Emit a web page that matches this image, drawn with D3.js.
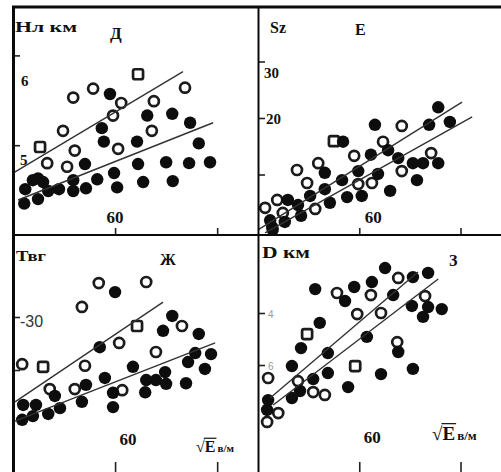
<!DOCTYPE html>
<html>
<head>
<meta charset="utf-8">
<script src="https://cdn.jsdelivr.net/npm/d3@7"></script>
<style>
  html, body { margin: 0; padding: 0; background: #fff; }
  svg { display: block; }
</style>
</head>
<body>
<script>
// Shared horizontal variable: sqrt(E), В/м
const xTicks = [60, 80];
const xTickLabels = ["60", ""];

// Д — Нл, км
const dYTicks = [6, 5];
const dYLabels = ["6", "5"];
const dOpen = [[55.7,5.63],[51.8,5.53],[73.7,5.64],[61.2,5.47],[67.6,5.49],[59.6,5.33],[49.8,5.16],[67.2,5.16],[52.1,4.94],[60.6,4.96],[46.7,4.80],[50.6,4.76]];
const dSquare = [[64.5,5.79],[45.3,4.98]];
const dFilled = [[59.0,5.57],[57.4,5.19],[57.8,5.04],[66.3,5.33],[71.2,5.35],[74.7,5.25],[64.3,5.04],[76.4,5.02],[54.1,4.79],[64.5,4.79],[70.0,4.81],[74.5,4.80],[78.6,4.81],[59.8,4.69],[51.8,4.61],[56.5,4.62],[65.5,4.59],[71.3,4.60],[43.9,4.61],[45.9,4.59],[44.9,4.63],[42.4,4.51],[46.9,4.49],[49.0,4.51],[51.8,4.49],[54.3,4.52],[60.4,4.53],[44.9,4.40],[42.2,4.35]];
const dLines = [[[40,4.69],[73.3,5.82]], [[41.0,4.39],[79.2,5.25]]];

// Е — Sz
const eYTicks = [30, 20, 10];
const eYLabels = ["30", "20", ""];
const eOpen = [[68.4,18.6],[64.7,15.8],[59.0,13.3],[51.9,12.0],[47.7,10.8],[68.4,10.6],[74.2,13.8],[49.7,8.5],[59.8,8.3],[62.5,8.5],[43.8,5.5],[51.3,3.9],[41.4,4.1],[44.9,3.2]];
const eSquare = [[55.0,15.9]];
const eFilled = [[75.6,21.9],[77.9,19.3],[73.8,18.8],[63.1,18.8],[56.8,15.8],[65.7,14.3],[62.3,13.5],[67.7,12.9],[70.6,12.0],[72.6,12.0],[75.6,12.0],[53.2,10.3],[59.8,10.6],[63.7,10.1],[71.4,9.0],[56.6,9.0],[53.2,7.4],[50.3,6.2],[57.6,6.0],[60.5,6.2],[66.1,7.1],[54.2,5.0],[45.9,5.5],[47.9,4.6],[48.5,2.7],[45.3,1.6],[42.8,0.7],[42.4,1.9],[42.9,0.2]];
const eLines = [[[40,0.2],[80.3,22.8]], [[41.4,-0.35],[82.3,20.2]]];

// Ж — Твг
const zhYTicks = [-30, -40];
const zhYLabels = ["-30", ""];
const zhOpen = [[56.8,-23.6],[66.1,-23.4],[53.5,-28.1],[73.1,-31.7],[60.8,-34.9],[68.0,-36.6],[41.8,-38.9],[54.1,-39.2],[47.2,-43.6],[52.1,-43.6],[61.4,-43.8]];
const zhSquare = [[64.3,-31.7],[45.9,-39.4]];
const zhFilled = [[60.0,-25.3],[71.2,-29.8],[69.4,-32.6],[76.4,-33.2],[57.0,-35.7],[75.7,-36.8],[78.8,-37.0],[74.3,-38.5],[63.5,-39.4],[77.6,-39.8],[69.8,-40.4],[58.0,-41.5],[66.1,-41.9],[68.0,-41.9],[54.3,-42.8],[70.0,-42.6],[73.9,-42.5],[48.2,-44.9],[59.6,-44.3],[65.9,-44.2],[53.5,-46.0],[49.2,-47.2],[59.6,-47.0],[42.0,-46.6],[44.5,-46.6],[46.9,-48.3],[43.9,-48.7],[41.8,-49.4]];
const zhLines = [[[40.4,-46.0],[69.4,-27.2]], [[40,-49.8],[79.6,-34.9]]];

// З — D, км
const zYTicks = [4, 6];
const zYLabels = ["4", "6"];
const zOpen = [[67.7,2.65],[62.3,3.31],[55.6,3.23],[73.0,3.35],[59.6,4.04],[64.3,4.00],[67.5,5.12],[42.0,6.50],[47.9,6.62],[50.9,7.04],[53.2,7.15],[44.0,7.85],[41.8,8.19]];
const zSquare = [[49.7,4.81],[59.2,6.04]];
const zFilled = [[65.1,2.27],[70.6,2.62],[73.6,2.46],[62.5,2.81],[59.0,3.0],[51.3,3.08],[57.2,3.54],[66.7,3.31],[70.4,3.73],[73.6,3.77],[76.3,3.85],[72.6,4.15],[52.2,4.38],[61.5,4.92],[48.5,5.35],[67.7,5.50],[53.8,5.54],[46.7,6.04],[53.8,6.31],[70.6,6.15],[64.3,6.35],[50.9,6.54],[57.8,6.85],[48.3,7.0],[46.7,7.27],[42.0,7.35],[41.8,7.73]];
const zLines = [[[42.4,7.27],[71.6,2.42]], [[43.0,7.54],[75.6,2.69]]];

const W = 501, H = 472;
const serif = "'Liberation Serif','DejaVu Serif',serif";
const sans = "'Liberation Sans','DejaVu Sans',sans-serif";

const svg = d3.select("body").append("svg")
  .attr("width", W).attr("height", H)
  .attr("viewBox", `0 0 ${W} ${H}`);

svg.append("defs").append("filter").attr("id", "soft")
  .append("feGaussianBlur").attr("stdDeviation", 0.35);

const panels = [
  { x0: 13, x1: 258, axisY: 235, tick: 7,
    yDomain: [4, 6.55], yRange: [235, 6],
    yTicks: dYTicks, yLabels: dYLabels, labelPos: [[21, 31], [20, 20]], labelFont: serif, labelSize: 15, labelColor: "#111", labelWeight: 700,
    open: dOpen, square: dSquare, filled: dFilled, lines: dLines,
    xLabelY: 223, xLabelX: 0 },
  { x0: 258, x1: 501, axisY: 235, tick: 7,
    yDomain: [0, 40], yRange: [231, 5],
    yTicks: eYTicks, yLabels: eYLabels, labelPos: [[264, 16.5], [266, 6], [266, 0]], labelFont: serif, labelSize: 15, labelColor: "#111", labelWeight: 700,
    open: eOpen, square: eSquare, filled: eFilled, lines: eLines,
    xLabelY: 223, xLabelX: 14 },
  { x0: 13, x1: 258, axisY: 474, tick: 12,
    yDomain: [-60, -15], yRange: [476, 237.5],
    yTicks: zhYTicks, yLabels: zhYLabels, labelPos: [[20, 10], [20, 0]], labelFont: sans, labelSize: 16, labelColor: "#333", labelWeight: 400,
    open: zhOpen, square: zhSquare, filled: zhFilled, lines: zhLines,
    xLabelY: 445, xLabelX: 13 },
  { x0: 258, x1: 501, axisY: 474, tick: 12,
    yDomain: [1, 10], yRange: [235, 469],
    yTicks: zYTicks, yLabels: zYLabels, labelPos: [[268, 5], [268, 5]], labelFont: sans, labelSize: 10, labelColor: "#999", labelWeight: 400,
    open: zOpen, square: zSquare, filled: zFilled, lines: zLines,
    xLabelY: 443, xLabelX: 13 }
];

panels.forEach(p => {
  const x = d3.scaleLinear().domain([40, 88]).range([p.x0, p.x1]);
  const y = d3.scaleLinear().domain(p.yDomain).range(p.yRange);
  const g = svg.append("g");

  // vertical ticks on the left edge
  const ya = g.append("g").attr("transform", `translate(${p.x0},0)`)
    .call(d3.axisRight(y).tickValues(p.yTicks).tickSize(7).tickFormat(""));
  ya.select(".domain").remove();
  ya.selectAll("line").attr("stroke", "#222").attr("stroke-width", 1.6);

  // tick labels
  p.yTicks.forEach((v, i) => {
    if (!p.yLabels[i]) return;
    g.append("text")
      .attr("x", p.labelPos[i][0])
      .attr("y", y(v) + p.labelPos[i][1])
      .attr("font-family", p.labelFont)
      .attr("font-weight", p.labelWeight)
      .attr("font-size", p.labelSize)
      .attr("fill", p.labelColor)
      .text(p.yLabels[i]);
  });

  // horizontal ticks
  const xa = g.append("g").attr("transform", `translate(0,${p.axisY})`)
    .call(d3.axisTop(x).tickValues(xTicks).tickSize(p.tick).tickFormat(""));
  xa.select(".domain").remove();
  xa.selectAll("line").attr("stroke", "#222").attr("stroke-width", 1.6);

  xTicks.forEach((v, i) => {
    if (!xTickLabels[i]) return;
    g.append("text")
      .attr("x", x(v) + p.xLabelX)
      .attr("y", p.xLabelY)
      .attr("text-anchor", "middle")
      .attr("font-family", serif)
      .attr("font-weight", 700)
      .attr("font-size", 17)
      .attr("fill", "#111")
      .text(xTickLabels[i]);
  });

  const marks = g.append("g").attr("filter", "url(#soft)");

  marks.selectAll("circle.open").data(p.open).join("circle")
    .attr("class", "open")
    .attr("cx", d => x(d[0])).attr("cy", d => y(d[1]))
    .attr("r", 5)
    .attr("fill", "#fff").attr("stroke", "#1a1a1a").attr("stroke-width", 2.7);

  marks.selectAll("rect.square").data(p.square).join("rect")
    .attr("class", "square")
    .attr("x", d => x(d[0]) - 5).attr("y", d => y(d[1]) - 5)
    .attr("width", 10).attr("height", 10).attr("rx", 2)
    .attr("fill", "#fff").attr("stroke", "#1a1a1a").attr("stroke-width", 2.7);

  marks.selectAll("circle.filled").data(p.filled).join("circle")
    .attr("class", "filled")
    .attr("cx", d => x(d[0])).attr("cy", d => y(d[1]))
    .attr("r", 6.2)
    .attr("fill", "#0d0d0d");

  const line = d3.line().x(d => x(d[0])).y(d => y(d[1]));
  marks.selectAll("path.fit").data(p.lines).join("path")
    .attr("class", "fit")
    .attr("d", line)
    .attr("fill", "none").attr("stroke", "#333").attr("stroke-width", 1.4);
});

// frame and dividers
const frame = svg.append("g").attr("stroke", "#0a0a0a");
frame.append("line").attr("x1", 12).attr("x2", W).attr("y1", 7).attr("y2", 7).attr("stroke-width", 3);
frame.append("line").attr("x1", 13.5).attr("x2", 13.5).attr("y1", 6).attr("y2", H).attr("stroke-width", 3);
frame.append("line").attr("x1", 258.5).attr("x2", 258.5).attr("y1", 6).attr("y2", H).attr("stroke-width", 2);
frame.append("line").attr("x1", 13).attr("x2", W).attr("y1", 235).attr("y2", 235).attr("stroke-width", 2.2);

// panel titles
const titles = [
  { t: "Нл км", x: 15, y: 32, size: 15, len: 62 },
  { t: "Д", x: 110, y: 39, size: 17 },
  { t: "Sz", x: 270, y: 33, size: 16 },
  { t: "Е", x: 355, y: 35, size: 16 },
  { t: "Твг", x: 16, y: 261, size: 15, len: 30 },
  { t: "Ж", x: 160, y: 265, size: 16 },
  { t: "D км", x: 262, y: 258, size: 16, len: 48 },
  { t: "З", x: 449, y: 266, size: 16 }
];
titles.forEach(d => {
  const el = svg.append("text")
    .attr("x", d.x).attr("y", d.y)
    .attr("font-family", serif).attr("font-weight", 700)
    .attr("font-size", d.size).attr("fill", "#111")
    .text(d.t);
  if (d.len) el.attr("textLength", d.len).attr("lengthAdjust", "spacingAndGlyphs");
});

// axis unit labels: sqrt(E) в/м
function rootLabel(x, yBase, big, small) {
  const t = svg.append("text")
    .attr("x", x).attr("y", yBase)
    .attr("font-family", serif).attr("font-weight", 700).attr("fill", "#111");
  t.append("tspan").attr("font-size", big).attr("font-weight", 400).text("√");
  t.append("tspan").attr("font-size", big).text("E");
  t.append("tspan").attr("font-size", small).attr("dx", 2).text("в/м");
  const node = t.node();
  const start = node.getStartPositionOfChar(1).x;
  const end = node.getEndPositionOfChar(1).x;
  svg.append("line")
    .attr("x1", start - 1).attr("x2", end + 1)
    .attr("y1", yBase - big * 0.86).attr("y2", yBase - big * 0.86)
    .attr("stroke", "#111").attr("stroke-width", 1.2);
}
rootLabel(196, 452, 16, 11);
rootLabel(432, 440, 19, 13);
</script>
</body>
</html>
